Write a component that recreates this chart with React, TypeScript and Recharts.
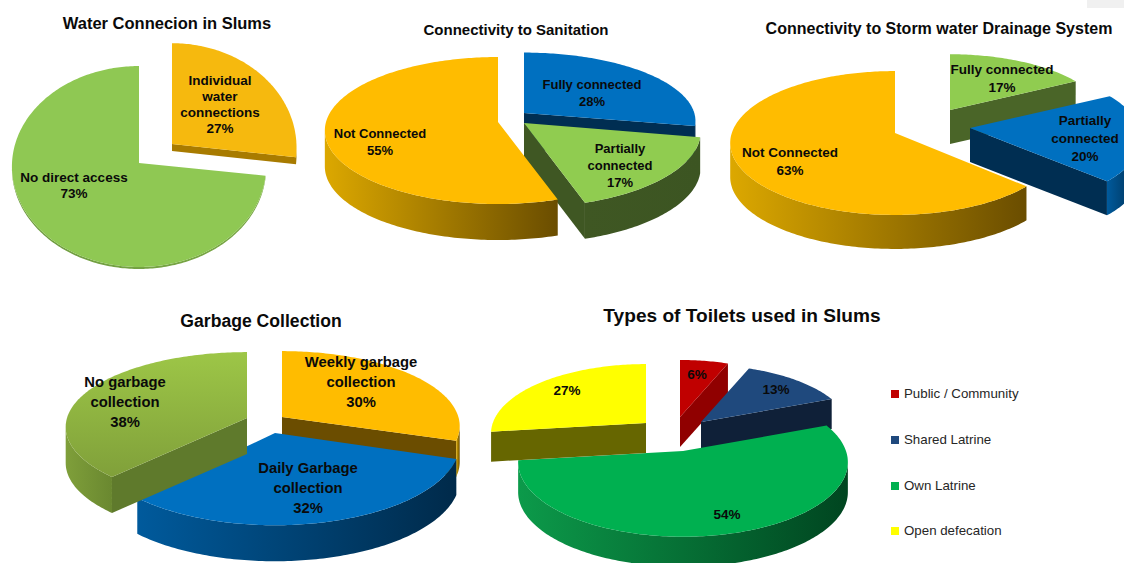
import React from 'react';
import { PieChart, Pie, Cell, Legend } from 'recharts';

const waterCategories = ['Individual water connections', 'No direct access'];
const waterValues = [27, 73];
const sanitationCategories = ['Fully connected', 'Partially connected', 'Not Connected'];
const sanitationValues = [28, 17, 55];
const stormCategories = ['Fully connected', 'Partially connected', 'Not Connected'];
const stormValues = [17, 20, 63];
const garbageCategories = ['Weekly garbage collection', 'Daily Garbage collection', 'No garbage collection'];
const garbageValues = [30, 32, 38];
const toiletCategories = ['Public / Community', 'Shared Latrine', 'Own Latrine', 'Open defecation'];
const toiletValues = [6, 13, 54, 27];

interface SliceStyle {
  top: string;
  topEnd?: string;
  wallLight: string;
  wallDark: string;
  cut: string;
  dx?: number;
  dy?: number;
  sx?: number;
  sy?: number;
  depth?: number;
  labelLines?: string[];
  labelX: number;
  labelY: number;
}

interface PieLayout {
  id: string;
  title: string;
  titleX: number;
  titleY: number;
  titleSize: number;
  labelSize: number;
  lineGap: number;
  cx: number;
  cy: number;
  radius: number;
  tilt: number; // vertical squash of the disc
  perspective: number; // how much the back of the disc shrinks
  depth: number;
  names: string[];
  values: number[];
  slices: SliceStyle[];
}

const GOLD = { top: '#FFBC00', wallLight: '#DCA800', wallDark: '#6A4D00', cut: '#6B4D00' };
const LEAF = { top: '#90CC50', wallLight: '#3F5723', wallDark: '#3C5522', cut: '#3F5723' };
const BLUE = { top: '#0070C0', wallLight: '#005A9C', wallDark: '#002A4A', cut: '#002E52' };

const layouts: PieLayout[] = [
  {
    id: 'water', title: 'Water Connecion in Slums', titleX: 167, titleY: 29, titleSize: 16.5,
    labelSize: 13.5, lineGap: 16, cx: 139, cy: 163, radius: 127, tilt: 0.79, perspective: 0.035, depth: 2,
    names: waterCategories, values: waterValues,
    slices: [
      { ...GOLD, top: '#F6B90E', wallLight: '#AD8000', wallDark: '#A37800', cut: '#A87B00', dx: 33, dy: -19, sx: 0.98, sy: 1.04, depth: 7,
        labelLines: ['Individual', 'water', 'connections'], labelX: 220, labelY: 85 },
      { ...LEAF, top: '#8FC853', wallLight: '#6F9C40', wallDark: '#7AA846', labelLines: ['No direct access'], labelX: 74, labelY: 182 },
    ],
  },
  {
    id: 'sanitation', title: 'Connectivity to Sanitation', titleX: 516, titleY: 35, titleSize: 15,
    labelSize: 13, lineGap: 17, cx: 498, cy: 122, radius: 172, tilt: 0.4215, perspective: 0.116, depth: 36,
    names: sanitationCategories, values: sanitationValues,
    slices: [
      { ...BLUE, dx: 26, dy: -9, sx: 0.99, sy: 0.93, labelX: 592, labelY: 89 },
      { ...LEAF, dx: 26, dy: 1, sx: 1.02, sy: 1.03, labelLines: ['Partially', 'connected'], labelX: 620, labelY: 153 },
      { ...GOLD, labelX: 380, labelY: 138 },
    ],
  },
  {
    id: 'storm', title: 'Connectivity to Storm water Drainage System', titleX: 939, titleY: 34, titleSize: 16,
    labelSize: 13.5, lineGap: 18, cx: 895, cy: 133, radius: 170, tilt: 0.415, perspective: 0.139, depth: 34,
    names: stormCategories, values: stormValues,
    slices: [
      { ...LEAF, cut: '#4A6528', wallLight: '#4A6528', wallDark: '#4A6528', dx: 55, dy: -23, sx: 0.9, sy: 0.9, labelX: 1002, labelY: 74 },
      { ...BLUE, dx: 75, dy: -5, labelLines: ['Partially', 'connected'], labelX: 1085, labelY: 125 },
      { ...GOLD, sx: 0.96, labelX: 790, labelY: 157 },
    ],
  },
  {
    id: 'garbage', title: 'Garbage Collection', titleX: 261, titleY: 327, titleSize: 17.6,
    labelSize: 14.8, lineGap: 20, cx: 247, cy: 418, radius: 180, tilt: 0.41, perspective: 0.12, depth: 36,
    names: garbageCategories, values: garbageValues,
    slices: [
      { ...GOLD, dx: 35, dy: -1, sx: 0.98, labelLines: ['Weekly garbage', 'collection'], labelX: 361, labelY: 367 },
      { ...BLUE, dx: 28, dy: 15, sx: 1.02, sy: 1.1, labelLines: ['Daily Garbage', 'collection'], labelX: 308, labelY: 473 },
      { top: '#9DC647', topEnd: '#80A03A', wallLight: '#7F9F3A', wallDark: '#6A8830', cut: '#5F7A2C',
        labelLines: ['No garbage', 'collection'], labelX: 125, labelY: 387 },
    ],
  },
  {
    id: 'toilets', title: 'Types of Toilets used in Slums', titleX: 742, titleY: 322, titleSize: 19.1,
    labelSize: 13.5, lineGap: 17, cx: 683, cy: 451, radius: 163, tilt: 0.447, perspective: 0.15, depth: 30,
    names: toiletCategories, values: toiletValues,
    slices: [
      { top: '#C00000', wallLight: '#900000', wallDark: '#900000', cut: '#900000', dx: -3, dy: -34, sx: 0.91, sy: 0.9, labelLines: [], labelX: 697, labelY: 379 },
      { top: '#1F497D', wallLight: '#0F213F', wallDark: '#0F213F', cut: '#0F2038', dx: 18, dy: -29, sx: 0.91, sy: 0.9, labelLines: [], labelX: 776, labelY: 394 },
      { top: '#00B050', wallLight: '#0C9A4A', wallDark: '#004520', cut: '#00602C', labelLines: [], labelX: 727, labelY: 519 },
      { top: '#FFFF00', wallLight: '#666600', wallDark: '#666600', cut: '#666600', dx: -37, dy: -28, sx: 0.94, sy: 0.93, labelLines: [], labelX: 567, labelY: 395 },
    ],
  },
];

const legendColors = ['#C00000', '#1F497D', '#00B050', '#FFFF00'];

const RAD = Math.PI / 180;
const toPath = (pts: number[][]) => pts.map((p, i) => `${i ? 'L' : 'M'}${p[0].toFixed(2)} ${p[1].toFixed(2)}`).join('') + 'Z';

// Extruded wedge: angles come from the Pie, the disc is projected with a little perspective
const makeWedge = (layout: PieLayout) => (props: any) => {
  const { cx, cy, outerRadius, startAngle, endAngle, index } = props;
  const s = layout.slices[index];
  const depth = s.depth ?? layout.depth;
  const sx = s.sx ?? 1;
  const sy = s.sy ?? 1;
  const ox = cx + (s.dx ?? 0);
  const oy = cy + (s.dy ?? 0);

  const at = (deg: number) => {
    const X = Math.cos(deg * RAD);
    const Z = Math.sin(deg * RAD);
    const w = 1 + layout.perspective * Z;
    return [ox + (outerRadius * sx * X) / w, oy - (outerRadius * layout.tilt * sy * Z) / w];
  };

  const steps = Math.max(8, Math.ceil(Math.abs(startAngle - endAngle)));
  const arc: number[][] = [];
  for (let i = 0; i <= steps; i++) arc.push(at(startAngle + ((endAngle - startAngle) * i) / steps));
  const apex = [ox, oy];
  const down = (p: number[]) => [p[0], p[1] + depth];
  const quad = (a: number[], b: number[]) => [a, b, down(b), down(a)];

  // only edges running leftwards face the viewer on a clockwise outline
  const runs: number[][][] = [];
  let run: number[][] = [];
  for (let i = 1; i < arc.length; i++) {
    if (arc[i][0] < arc[i - 1][0]) {
      if (!run.length) run.push(arc[i - 1]);
      run.push(arc[i]);
    } else if (run.length) {
      runs.push(run);
      run = [];
    }
  }
  if (run.length) runs.push(run);

  const first = arc[0];
  const last = arc[arc.length - 1];
  const wallId = `wall-${layout.id}-${index}`;
  const topId = `top-${layout.id}-${index}`;

  return (
    <g>
      <defs>
        <linearGradient id={wallId} x1="0" y1="0" x2="1" y2="0">
          <stop offset="0%" stopColor={s.wallLight} />
          <stop offset="100%" stopColor={s.wallDark} />
        </linearGradient>
        {s.topEnd && (
          <linearGradient id={topId} x1="0" y1="0" x2="0" y2="1">
            <stop offset="0%" stopColor={s.top} />
            <stop offset="100%" stopColor={s.topEnd} />
          </linearGradient>
        )}
      </defs>
      {first[0] < apex[0] && <path d={toPath(quad(apex, first))} fill={s.cut} />}
      {apex[0] < last[0] && <path d={toPath(quad(last, apex))} fill={s.cut} />}
      {runs.map((r, i) => (
        <path key={i} d={toPath([...r, ...r.map(down).reverse()])} fill={`url(#${wallId})`} />
      ))}
      <path d={toPath([apex, ...arc])} fill={s.topEnd ? `url(#${topId})` : s.top} />
    </g>
  );
};

const makeLabel = (layout: PieLayout) => (props: any) => {
  const { index, value } = props;
  const s = layout.slices[index];
  const lines = [...(s.labelLines ?? [layout.names[index]]), `${value}%`];
  return (
    <text
      key={index}
      x={s.labelX}
      y={s.labelY}
      textAnchor="middle"
      fontFamily="'Liberation Sans', Arial, sans-serif"
      fontWeight="bold"
      fontSize={layout.labelSize}
      fill="#0a0a0a"
    >
      {lines.map((line, i) => (
        <tspan key={i} x={s.labelX} dy={i ? layout.lineGap : 0}>
          {line}
        </tspan>
      ))}
    </text>
  );
};

const ToiletLegend = ({ payload }: any) => {
  // the legend hook hands back every pie on the surface, keep the toilet one in slice order
  const items = (payload ?? [])
    .filter((p: any) => toiletCategories.includes(p.value))
    .sort((a: any, b: any) => toiletCategories.indexOf(a.value) - toiletCategories.indexOf(b.value));
  return (
    <div style={{ fontFamily: "'Liberation Sans', Arial, sans-serif", fontSize: 13.3, color: '#262626' }}>
      {items.map((p: any) => (
        <div key={p.value} style={{ position: 'relative', height: 45.8, lineHeight: '16px' }}>
          <span
            style={{
              position: 'absolute', left: 0, top: 4, width: 8, height: 8,
              background: legendColors[toiletCategories.indexOf(p.value)],
            }}
          />
          <span style={{ position: 'absolute', left: 13, top: 0, whiteSpace: 'nowrap' }}>{p.value}</span>
        </div>
      ))}
    </div>
  );
};

export default function App() {
  return (
    <div style={{ position: 'absolute', left: 0, top: 0, width: 1124, height: 563, overflow: 'hidden', background: '#fff' }}>
      <div style={{ position: 'absolute', left: 1087, top: 0, width: 37, height: 8, background: '#f0f0f0' }} />
      <PieChart width={1124} height={563} margin={{ top: 0, right: 0, bottom: 0, left: 0 }}>
        {layouts.map(layout => (
          <Pie
            key={layout.id}
            data={layout.names.map((name, i) => ({ name, value: layout.values[i] }))}
            dataKey="value"
            nameKey="name"
            cx={layout.cx}
            cy={layout.cy}
            outerRadius={layout.radius}
            startAngle={90}
            endAngle={-270}
            stroke="none"
            isAnimationActive={false}
            shape={makeWedge(layout)}
            label={makeLabel(layout)}
            labelLine={false}
          >
            {layout.slices.map((s, i) => (
              <Cell key={i} fill={s.top} />
            ))}
          </Pie>
        ))}
        {layouts.map(layout => (
          <text
            key={layout.id}
            x={layout.titleX}
            y={layout.titleY}
            textAnchor="middle"
            fontFamily="'Liberation Sans', Arial, sans-serif"
            fontWeight="bold"
            fontSize={layout.titleSize}
            fill="#0a0a0a"
          >
            {layout.title}
          </text>
        ))}
        <Legend
          layout="vertical"
          align="right"
          verticalAlign="middle"
          content={<ToiletLegend />}
          wrapperStyle={{ left: 891, top: 386, right: 'auto', bottom: 'auto', width: 200 }}
        />
      </PieChart>
    </div>
  );
}
